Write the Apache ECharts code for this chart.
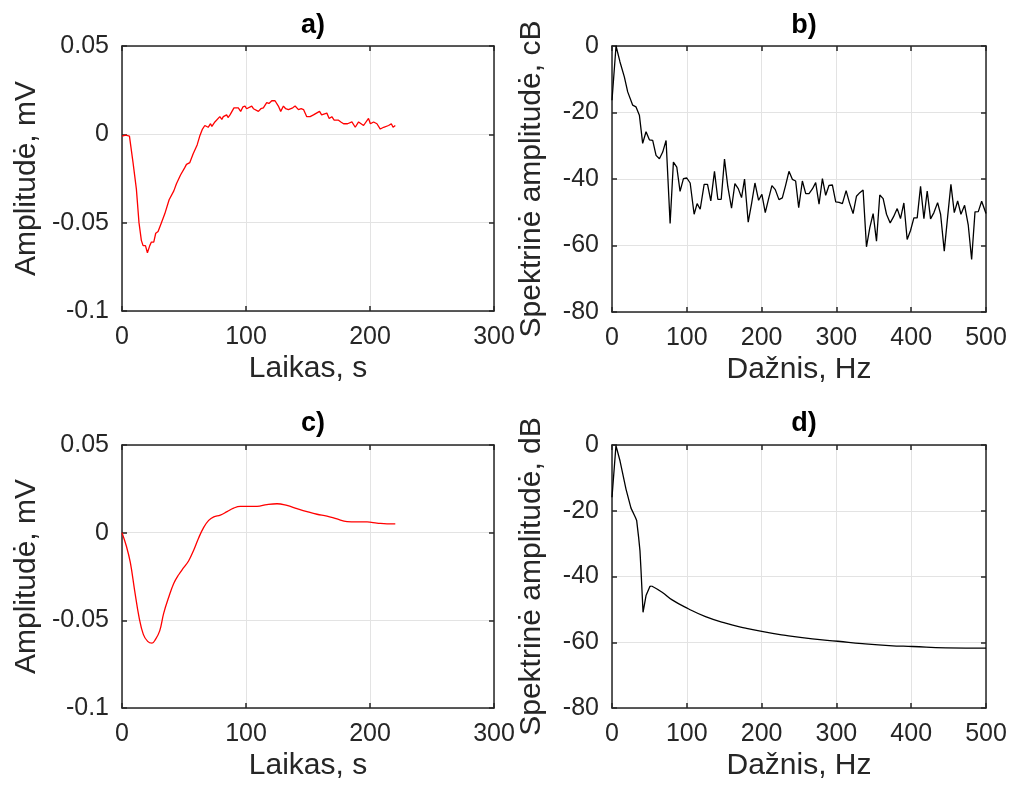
<!DOCTYPE html>
<html>
<head>
<meta charset="utf-8">
<script src="https://cdn.jsdelivr.net/npm/echarts@6/dist/echarts.min.js"></script>
<style>html,body{margin:0;padding:0;background:#fff}#c{width:1013px;height:792px}</style>
</head>
<body>
<div id="c"></div>
<script>
// ---- Data ----
const titles = ['a)', 'b)', 'c)', 'd)'];
const timeLabel = 'Laikas, s';
const freqLabel = 'Dažnis, Hz';
const ampLabel = 'Amplitudė, mV';
const specLabelB = 'Spektrinė amplitudė, cB';
const specLabelD = 'Spektrinė amplitudė, dB';

// a) raw signal
const aX = [0,3,6,8.9,11.6,13.7,15.6,17,18.9,20.5,22.4,23.7,25.6,27.2,29.1,31.8,34.5,38,41.8,43.9,45.5,47.2,48.8,50.5,52,54.7,57.4,60.6,62.7,64.9,66.8,68,69.5,71.4,72.5,74.9,78.9,80.5,81.7,84.4,85.5,87.1,90.3,93.8,95.7,97.5,99.2,100.5,101.9,104.6,106,107.3,110,112,114,116.7,118.5,120.8,123.4,126.1,128,130.2,132,134.2,137.7,139.6,142.3,144.5,146.4,149,151.7,154.4,155.7,159.3,161,162.5,165.2,167.1,169.2,171.1,174.6,176.5,178.7,181.9,185.4,188.1,190.8,194.8,198.8,200.3,202.9,205.6,208.3,211,215,217.2,218.6,220.4];
const aY = [-0.001,-0.0005,-0.001,-0.016,-0.031,-0.050,-0.060,-0.063,-0.063,-0.067,-0.063,-0.061,-0.061,-0.056,-0.055,-0.050,-0.045,-0.037,-0.032,-0.028,-0.027,-0.023,-0.024,-0.019,-0.017,-0.016,-0.011,-0.006,-0.001,0.003,0.005,0.004,0.004,0.006,0.0045,0.007,0.010,0.0085,0.010,0.011,0.0095,0.011,0.015,0.015,0.013,0.0155,0.016,0.0145,0.015,0.016,0.0145,0.015,0.013,0.0145,0.015,0.018,0.0175,0.019,0.019,0.016,0.013,0.016,0.0145,0.014,0.015,0.016,0.014,0.0145,0.014,0.010,0.010,0.011,0.010,0.013,0.011,0.010,0.012,0.009,0.010,0.008,0.008,0.007,0.006,0.006,0.007,0.004,0.007,0.005,0.009,0.006,0.007,0.006,0.003,0.004,0.005,0.006,0.004,0.005];

// b) raw spectrum
const bX = [0,5.4,10.7,16.5,21,27.7,32,36.6,41,45.5,50,54.4,58.9,63.4,67.8,72.3,77.7,82.1,86.6,91,95.5,100,104.5,109.8,113.8,117.9,123.2,127.7,132.1,137,141.5,146,150.4,154.9,159.8,164.3,168.8,173.2,177.2,182.1,186.6,191.1,196,200.4,204.9,209.4,213.8,218.3,223.2,227.7,232.1,236.6,241.1,245.5,249.6,254.5,259,263.4,267.9,272.3,276.8,281.3,285.7,290.2,294.6,299.1,303.6,308,313,317.4,322.3,326.8,331.3,335.7,340.2,344.6,349.1,353.6,358,362.5,367,371.9,376.3,381.3,385.7,390.2,394.6,399.1,403.6,408,412.5,417,421.4,425.9,430.4,435.3,439.3,444.2,448.7,453.1,457.6,462.1,466.5,471.4,476.3,480.8,485.3,489.7,494.2,500];
const bY = [-16.3,0,-4.8,-9.3,-13.8,-17.8,-18.3,-20.8,-29.3,-25.8,-28.2,-28.4,-32.9,-33.9,-31.9,-28.4,-53.4,-34.9,-36.4,-43.7,-39.9,-39.7,-41.2,-50.6,-47.4,-49.1,-41.6,-41.6,-46.6,-37.7,-46.1,-46.1,-34,-42.4,-48.8,-41.4,-42.9,-45.6,-40,-53,-47.4,-41.2,-46.4,-44.6,-50.1,-45.9,-42,-43.2,-46.2,-45.7,-41.9,-37.7,-40.1,-40.6,-48.6,-40.6,-44.4,-44.4,-43,-41.1,-47.6,-39.9,-44.9,-41.9,-41.8,-46.9,-47,-47.4,-43.5,-47.1,-50.4,-45.2,-44.1,-43.3,-60.4,-54.7,-50.4,-58.7,-44.8,-45.9,-50.6,-53.2,-51.4,-48.9,-51.9,-47.2,-58.2,-55.5,-51.7,-51.7,-42.2,-51.9,-43.6,-52,-50.1,-47.1,-50.6,-61.7,-51.4,-41.6,-50.1,-46.6,-50.6,-47.9,-53.9,-64.2,-49.9,-49.8,-46.7,-50.4];

// c) filtered signal
const cX = [0,3.5,6.7,10.2,13.7,17.2,20.7,24.2,26.9,30.4,33.6,37.6,41.7,45.7,49.7,53.8,57.8,61.8,65.9,69.9,74,79.3,84.7,90,95.4,100.8,108.9,116.9,125,133,141.1,149.2,157.3,165.3,173.4,181.5,189.5,197.6,205.6,213.7,220.4];
const cY = [0,-0.0076,-0.017,-0.033,-0.048,-0.058,-0.062,-0.063,-0.061,-0.056,-0.046,-0.037,-0.029,-0.024,-0.020,-0.016,-0.010,-0.003,0.003,0.007,0.009,0.010,0.012,0.014,0.015,0.015,0.015,0.016,0.0165,0.0155,0.0137,0.012,0.0105,0.0095,0.0078,0.0063,0.0061,0.0061,0.0055,0.005,0.005];

// d) filtered spectrum: low-frequency part and smooth decay
const dX1 = [0,5.3,10.7,18.7,25.4,31.2,33,35.6,37.4,38.8,41.5,45.5,50.8,53];
const dY1 = [-15.9,-0.2,-4.8,-13.4,-19.2,-22,-23,-28.1,-32.2,-38.2,-50.9,-45.8,-43,-42.9];
const dX2 = [53,67,80.4,102,125,151.8,178.6,202,232,267.9,302,334.8,370.5,402,446.4,500];
const dY2 = [-42.9,-44.8,-47.1,-49.8,-52.2,-54.2,-55.7,-56.8,-57.9,-59,-59.7,-60.4,-61,-61.3,-61.7,-61.8];

const zip = (xs, ys) => xs.map((x, i) => [x, ys[i]]);

// ---- Layout / style ----
const FONT = '"Liberation Sans", Arial, sans-serif';
const TXT = '#262626';
const grids = [
  {left: 122, top: 46, width: 372, height: 265},
  {left: 612, top: 46, width: 374, height: 266},
  {left: 122, top: 445, width: 372, height: 263},
  {left: 612, top: 445, width: 374, height: 263}
];

const xCfg = [
  {min: 0, max: 300, interval: 100, name: timeLabel},
  {min: 0, max: 500, interval: 100, name: freqLabel},
  {min: 0, max: 300, interval: 100, name: timeLabel},
  {min: 0, max: 500, interval: 100, name: freqLabel}
];
const yCfg = [
  {min: -0.1, max: 0.05, interval: 0.05, name: ampLabel, gap: 80},
  {min: -80, max: 0, interval: 20, name: specLabelB, gap: 65},
  {min: -0.1, max: 0.05, interval: 0.05, name: ampLabel, gap: 80},
  {min: -80, max: 0, interval: 20, name: specLabelD, gap: 65}
];
const fmtY = v => String(+(+v).toFixed(2));

const frameLine = {show: true, onZero: false, lineStyle: {color: TXT, width: 1.5}};
const tick = {show: true, inside: true, length: 5, lineStyle: {color: TXT, width: 1.5}};
const gridLine = {show: true, lineStyle: {color: '#e3e3e3', width: 1}};

const xAxis = [], yAxis = [];
xCfg.forEach((c, i) => {
  xAxis.push({
    type: 'value', gridIndex: i, position: 'bottom', min: c.min, max: c.max, interval: c.interval,
    name: c.name, nameLocation: 'middle', nameGap: 43,
    nameTextStyle: {fontFamily: FONT, fontSize: 30, color: TXT},
    axisLine: frameLine, axisTick: tick,
    axisLabel: {fontFamily: FONT, fontSize: 25, color: TXT, margin: 14, showMinLabel: true, showMaxLabel: true},
    splitLine: gridLine
  });
  xAxis.push({
    type: 'value', gridIndex: i, position: 'top', min: c.min, max: c.max, interval: c.interval,
    axisLine: frameLine, axisTick: tick,
    axisLabel: {show: false}, splitLine: {show: false}
  });
});
yCfg.forEach((c, i) => {
  yAxis.push({
    type: 'value', gridIndex: i, position: 'left', min: c.min, max: c.max, interval: c.interval,
    name: c.name, nameLocation: 'middle', nameGap: c.gap, nameRotate: 90,
    nameTextStyle: {fontFamily: FONT, fontSize: 30, color: TXT},
    axisLine: frameLine, axisTick: tick,
    axisLabel: {fontFamily: FONT, fontSize: 25, color: TXT, margin: 13, formatter: fmtY, showMinLabel: true, showMaxLabel: true},
    splitLine: gridLine
  });
  yAxis.push({
    type: 'value', gridIndex: i, position: 'right', min: c.min, max: c.max, interval: c.interval,
    axisLine: frameLine, axisTick: tick,
    axisLabel: {show: false}, splitLine: {show: false}
  });
});

const centers = [308, 799, 308, 799];
const titleTops = [7, 7, 405, 405];
const title = titles.map((t, i) => ({
  text: t, left: centers[i], top: titleTops[i], textAlign: 'center',
  textStyle: {fontFamily: FONT, fontSize: 27, fontWeight: 'bold', color: '#000'}
}));

const mk = (idx, data, color, smooth) => ({
  type: 'line', xAxisIndex: idx * 2, yAxisIndex: idx * 2, data,
  showSymbol: false, symbol: 'none', smooth: smooth, animation: false,
  lineStyle: {color, width: 1.3}, clip: true
});

const chart = echarts.init(document.getElementById('c'), null, {renderer: 'canvas'});
chart.setOption({
  animation: false,
  backgroundColor: '#fff',
  title, grid: grids, xAxis, yAxis,
  series: [
    mk(0, zip(aX, aY), '#ff0000', false),
    mk(1, zip(bX, bY), '#000000', false),
    mk(2, zip(cX, cY), '#ff0000', 0.4),
    mk(3, zip(dX1, dY1), '#000000', false),
    mk(3, zip(dX2, dY2), '#000000', 0.5)
  ]
});
</script>
</body>
</html>
